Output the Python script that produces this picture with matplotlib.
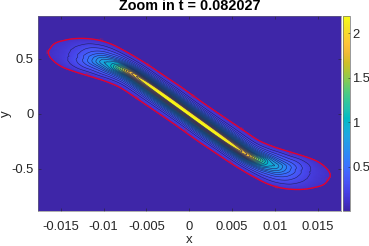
###############################################################################
# Zoomed contour plot of the density at t = 0.082027 (parula colours)
###############################################################################
import matplotlib
matplotlib.use('Agg')
import matplotlib.pyplot as plt
import matplotlib.tri as mtri
import numpy as np
from matplotlib.colors import LinearSegmentedColormap

plt.rcParams['font.family'] = ['Liberation Sans', 'DejaVu Sans']

# Stations along the ridge, centre (0, 0) out to the left tip. The right half
# of the picture is the point reflection of this one.
ridgeX = [0, -.00225, -.00436, -.00576, -.00693, -.00809, -.00915, -.01008, -.01125, -.01276, -.01417, -.01533, -.0165]
ridgeY = [0, .127, .245, .32, .379, .418, .445, .473, .491, .509, .527, .541, .559]
upperX = [.00117, -.00109, -.00319, -.00459, -.00611, -.00763, -.00903, -.01043, -.01195, -.01347, -.01487, -.0158, -.01645]
upperY = [.125, .252, .36, .435, .509, .577, .632, .668, .685, .684, .664, .636, .573]
lowerX = [-.00117, -.00342, -.00552, -.00716, -.00833, -.00973, -.0109, -.01218, -.01347, -.01463, -.01551, -.01615, -.01645]
lowerY = [-.125, -.004, .106, .195, .25, .295, .325, .355, .386, .419, .459, .505, .545]

# Fraction of the way from ridge to red contour, and the value read there
crossFrac = [0, .1, .2, .3, .45, .6, .8, 1]
density = [
    [2.2, 2.05, 1.65, 1.25, .78, .46, .2, .1],
    [2.2, 2.05, 1.65, 1.25, .78, .46, .2, .1],
    [2.15, 2.0, 1.62, 1.22, .76, .45, .2, .1],
    [2.05, 1.9, 1.55, 1.16, .72, .43, .2, .1],
    [1.85, 1.72, 1.42, 1.05, .66, .41, .2, .1],
    [1.4, 1.3, 1.12, .88, .58, .38, .2, .1],
    [1.0, .95, .85, .72, .5, .35, .2, .1],
    [.88, .82, .72, .6, .44, .32, .19, .1],
    [.62, .58, .52, .45, .36, .28, .18, .1],
    [.34, .33, .31, .28, .24, .2, .15, .1],
    [.19, .19, .18, .17, .16, .14, .12, .1],
    [.14, .14, .13, .13, .12, .12, .11, .1],
    [.1, .1, .1, .1, .1, .1, .1, .1],
]

contourLevels = [.2, .3, .4, .5, .6, .7, .8, .9, 1, 1.1, 1.2, 1.3, 1.4, 1.5, 1.6, 1.7, 1.8, 1.9, 2]
labelX = [-.01635, -.01023, -.00482, -.01183, -.00611, .00043]
labelY = [.577, .668, .441, .359, .141, .153]
labelRot = [90, -10, -30, -20, -35, -35]

xTicks = [-.015, -.01, -.005, 0, .005, .01, .015]
xTickLabels = ['-0.015', '-0.01', '-0.005', '0', '0.005', '0.01', '0.015']
yTicks = [-.5, 0, .5]
yTickLabels = ['-0.5', '0', '0.5']
cTicks = [.5, 1, 1.5, 2]
cTickLabels = ['0.5', '1', '1.5', '2']

parulaColors = [
    (.2422, .1504, .6603), (.2647, .1978, .7952), (.2783, .2559, .8991), (.2810, .3228, .9579),
    (.2699, .3892, .9906), (.2206, .4603, .9973), (.1786, .5289, .9682), (.1540, .5902, .9218),
    (.1248, .6459, .8883), (.0689, .6948, .8394), (.0067, .7312, .7660), (.1408, .7584, .6842),
    (.2161, .7843, .5923), (.3406, .8008, .4789), (.5044, .7993, .3480), (.6720, .7793, .2227),
    (.8203, .7498, .1535), (.9393, .7288, .2100), (.9970, .7659, .2199), (.9786, .8386, .1766),
    (.9597, .9135, .1423), (.9769, .9839, .0805),
]
parula = LinearSegmentedColormap.from_list('parula', parulaColors, N=256)

# Build the curvilinear mesh, left tip -> centre -> right tip
rx, ry = np.array(ridgeX), np.array(ridgeY)
ux, uy = np.array(upperX), np.array(upperY)
lx, ly = np.array(lowerX), np.array(lowerY)
zHalf = np.array(density)
frac = np.array(crossFrac)

rowsX, rowsY, rowsZ = [], [], []
for k in list(range(12, -1, -1)) + list(range(1, 13)):
    left = len(rowsX) < 13
    sgn = 1 if left else -1
    upX, upY = (ux[k], uy[k]) if left else (-lx[k], -ly[k])
    loX, loY = (lx[k], ly[k]) if left else (-ux[k], -uy[k])
    cx, cy = sgn * rx[k], sgn * ry[k]
    rowsX.append([cx + f * (loX - cx) for f in frac[:0:-1]] + [cx + f * (upX - cx) for f in frac])
    rowsY.append([cy + f * (loY - cy) for f in frac[:0:-1]] + [cy + f * (upY - cy) for f in frac])
    rowsZ.append(list(zHalf[k][:0:-1]) + list(zHalf[k]))
meshX, meshY, meshZ = np.array(rowsX), np.array(rowsY), np.array(rowsZ)

# Smooth the coarse table in index space with matplotlib's cubic interpolator
nRow, nCol = meshX.shape
colIdx, rowIdx = np.meshgrid(np.arange(nCol, dtype=float), np.arange(nRow, dtype=float))
triIdx = mtri.Triangulation(colIdx.ravel(), rowIdx.ravel())
colFine, rowFine = np.meshgrid(np.linspace(1e-6, nCol - 1 - 1e-6, (nCol - 1) * 8 + 1),
                               np.linspace(1e-6, nRow - 1 - 1e-6, (nRow - 1) * 8 + 1))
fineX = mtri.CubicTriInterpolator(triIdx, meshX.ravel(), kind='geom')(colFine, rowFine).filled(np.nan)
fineY = mtri.CubicTriInterpolator(triIdx, meshY.ravel(), kind='geom')(colFine, rowFine).filled(np.nan)
fineZ = mtri.CubicTriInterpolator(triIdx, meshZ.ravel(), kind='geom')(colFine, rowFine).filled(np.nan)

fig = plt.figure(figsize=(3.69, 2.46), dpi=100)
W, H = 369.0, 246.0
ax = fig.add_axes([38 / W, 1 - 211 / H, 302.7 / W, 195 / H])
ax.set_facecolor(parulaColors[0])
vmin, vmax = 0.0, 2.195
mesh = ax.pcolormesh(fineX, fineY, fineZ, shading='gouraud', cmap=parula, vmin=vmin, vmax=vmax)
ax.contour(fineX, fineY, fineZ, levels=contourLevels, colors='#20205f', linewidths=.4)

# red outer contour
redX = list(fineX[:, -1]) + list(fineX[::-1, 0])
redY = list(fineY[:, -1]) + list(fineY[::-1, 0])
redX.append(redX[0])
redY.append(redY[0])
ax.plot(redX, redY, color='#e4002b', lw=1.0)
for sgn in [1, -1]:
    for x, y, r in zip(labelX, labelY, labelRot):
        ax.text(sgn * x, sgn * y, '0.1', color='#d01040', fontsize=2.5, rotation=r, ha='center', va='center')

ax.set_xlim(-.01767, .01768)
ax.set_ylim(-.882, .89)
ax.set_xticks(xTicks)
ax.set_xticklabels(xTickLabels)
ax.set_yticks(yTicks)
ax.set_yticklabels(yTickLabels)
ax.tick_params(direction='in', length=2, width=.4, colors='#262626', labelsize=9.4, top=True, right=True)
ax.tick_params(axis='x', pad=7)
ax.tick_params(axis='y', pad=3)
for s in ax.spines.values():
    s.set_linewidth(.4)
    s.set_color('#707070')
ax.set_xlabel('x', fontsize=9.5, color='#262626', labelpad=1)
ax.set_ylabel('y', fontsize=9.5, color='#262626', labelpad=0)
ax.set_title('Zoom in t = 0.082027', fontsize=10.4, fontweight='bold', color='black', pad=4)

cax = fig.add_axes([343 / W, 1 - 211 / H, 6.7 / W, 195 / H])
cbar = fig.colorbar(mesh, cax=cax)
cbar.set_ticks(cTicks)
cbar.set_ticklabels(cTickLabels)
cbar.ax.tick_params(direction='in', length=1.5, width=.4, colors='#262626', labelsize=9.4, pad=2)
cbar.outline.set_linewidth(.5)
cbar.outline.set_edgecolor('#707070')

fig.savefig('out.png', dpi=100)
